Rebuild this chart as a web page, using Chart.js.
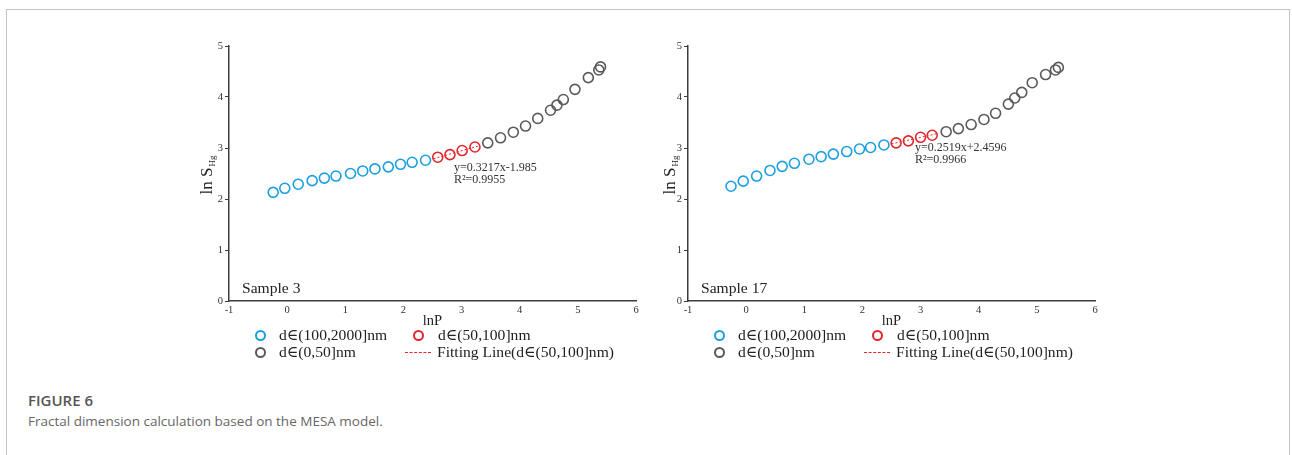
<!DOCTYPE html>
<html>
<head>
<meta charset="utf-8">
<script src="https://cdn.jsdelivr.net/npm/chart.js@4.4.1/dist/chart.umd.min.js"></script>
<style>
  html, body { margin: 0; padding: 0; background: #fff; }
  body { width: 1292px; height: 455px; position: relative; overflow: hidden; }
  .frame { position: absolute; left: 6px; top: 9px; width: 1284px; height: 460px;
           border: 1px solid #c4c4c4; border-bottom: none; box-sizing: border-box; }
  canvas { position: absolute; }
  .lg { position: absolute; font: 15.6px "Liberation Serif", "DejaVu Serif", serif; color: #222;
        white-space: nowrap; line-height: 18px; }
  .ring { position: absolute; width: 7px; height: 7px; border: 2px solid; border-radius: 50%; }
  .dash { position: absolute; height: 0; border-top: 1px dashed #e3262b; }
  .figno { position: absolute; left: 28px; top: 390px; font: 600 15px "Open Sans", sans-serif; color: #555; }
  .caption { position: absolute; left: 28px; top: 412px; font: 13.5px "Open Sans", sans-serif; color: #666; }
</style>
</head>
<body>
<div class="frame"></div>
<canvas id="panel3" width="490" height="300" style="left:160px; top:30px;"></canvas>
<canvas id="panel17" width="490" height="300" style="left:619px; top:30px;"></canvas>
<div id="legends"></div>
<div class="figno">FIGURE 6</div>
<div class="caption">Fractal dimension calculation based on the MESA model.</div>

<script>
// axis ticks
const xTicks = [-1, 0, 1, 2, 3, 4, 5, 6];
const yTicks = [0, 1, 2, 3, 4, 5];

// Sample 3: lnP vs ln S_Hg for each pore size range
const s3CoarseLnP = [-0.24, -0.04, 0.19, 0.43, 0.64, 0.84, 1.09, 1.30, 1.51, 1.74, 1.95, 2.15, 2.38];
const s3CoarseLnS = [2.13, 2.21, 2.29, 2.36, 2.41, 2.45, 2.50, 2.55, 2.59, 2.63, 2.68, 2.72, 2.76];
const s3MidLnP = [2.59, 2.80, 3.01, 3.23];
const s3MidLnS = [2.82, 2.87, 2.95, 3.02];
const s3FineLnP = [3.45, 3.67, 3.89, 4.10, 4.31, 4.53, 4.64, 4.75, 4.95, 5.18, 5.36, 5.39];
const s3FineLnS = [3.10, 3.20, 3.31, 3.43, 3.58, 3.74, 3.84, 3.95, 4.15, 4.38, 4.53, 4.59];
const s3FitLnP = [2.52, 3.29];
const s3FitLnS = [2.79, 3.04];
const s3FitText = ['y=0.3217x-1.985', 'R²=0.9955'];

// Sample 17
const s17CoarseLnP = [-0.26, -0.05, 0.18, 0.41, 0.62, 0.83, 1.08, 1.29, 1.50, 1.73, 1.95, 2.14, 2.37];
const s17CoarseLnS = [2.25, 2.35, 2.45, 2.56, 2.64, 2.70, 2.78, 2.83, 2.88, 2.93, 2.98, 3.01, 3.06];
const s17MidLnP = [2.58, 2.79, 3.00, 3.20];
const s17MidLnS = [3.10, 3.14, 3.21, 3.25];
const s17FineLnP = [3.44, 3.65, 3.87, 4.09, 4.29, 4.51, 4.62, 4.74, 4.92, 5.15, 5.32, 5.37];
const s17FineLnS = [3.32, 3.38, 3.46, 3.56, 3.68, 3.86, 3.98, 4.09, 4.28, 4.44, 4.53, 4.58];
const s17FitLnP = [2.50, 3.28];
const s17FitLnS = [3.08, 3.28];
const s17FitText = ['y=0.2519x+2.4596', 'R²=0.9966'];

const seriesLabels = ['d∈(100,2000]nm', 'd∈(50,100]nm', 'd∈(0,50]nm', 'Fitting Line(d∈(50,100]nm)'];

const BLUE = '#1b9fe0';
const RED = '#e3262b';
const GREY = '#5a5a5a';
const AXIS = '#3c3c3c';
const SERIF = '"Liberation Serif", "DejaVu Serif", serif';

function toPoints(xs, ys) {
    return xs.map((x, i) => ({ x: x, y: ys[i] }));
}

// sample name, fit equation and the y title with its subscript
const panelText = {
    id: 'panelText',
    afterDraw(chart, args, opts) {
        const { ctx, chartArea } = chart;
        ctx.save();
        ctx.textBaseline = 'middle';
        ctx.textAlign = 'left';

        ctx.fillStyle = '#222';
        ctx.font = '15.6px ' + SERIF;
        ctx.fillText(opts.sample, chartArea.left + 13, chartArea.bottom - 12);

        ctx.fillStyle = '#333';
        ctx.font = '12px ' + SERIF;
        ctx.fillText(opts.fit[0], chartArea.left + opts.fitPos[0], chartArea.top + opts.fitPos[1]);
        ctx.fillText(opts.fit[1], chartArea.left + opts.fitPos[0], chartArea.top + opts.fitPos[1] + 11.5);

        // rotated "ln S" with a small "Hg" below the baseline
        ctx.translate(chartArea.left - opts.titleGap, chartArea.top + 129);
        ctx.rotate(-Math.PI / 2);
        ctx.font = '17px ' + SERIF;
        const mainW = ctx.measureText('ln S').width;
        ctx.font = '9px ' + SERIF;
        const subW = ctx.measureText('Hg').width;
        const x0 = -(mainW + subW + 1) / 2;
        ctx.fillStyle = '#222';
        ctx.font = '17px ' + SERIF;
        ctx.fillText('ln S', x0, 0);
        ctx.font = '9px ' + SERIF;
        ctx.fillText('Hg', x0 + mainW + 1, 5);
        ctx.restore();
    }
};

function ringSet(label, data, color) {
    return {
        label: label,
        data: data,
        showLine: false,
        pointRadius: 5,
        pointHoverRadius: 5,
        pointBorderWidth: 1.6,
        pointBackgroundColor: 'rgba(0,0,0,0)',
        pointBorderColor: color,
        borderColor: color
    };
}

function makePanel(canvasId, coarse, mid, fine, fit, textOpts) {
    const ctx = document.getElementById(canvasId).getContext('2d');
    return new Chart(ctx, {
        type: 'scatter',
        data: {
            datasets: [
                {
                    label: seriesLabels[3],
                    data: fit,
                    showLine: true,
                    pointRadius: 0,
                    borderColor: RED,
                    borderWidth: 1,
                    borderDash: [2, 2]
                },
                ringSet(seriesLabels[0], coarse, BLUE),
                ringSet(seriesLabels[1], mid, RED),
                ringSet(seriesLabels[2], fine, GREY)
            ]
        },
        options: {
            responsive: false,
            animation: false,
            devicePixelRatio: 1,
            layout: { padding: { top: 16, right: 14, left: 0, bottom: 0 } },
            plugins: {
                legend: { display: false },
                tooltip: { enabled: false },
                panelText: textOpts
            },
            scales: {
                x: {
                    type: 'linear',
                    min: xTicks[0],
                    max: xTicks[xTicks.length - 1],
                    afterBuildTicks: (scale) => { scale.ticks = xTicks.map(v => ({ value: v })); },
                    afterFit: (scale) => { scale.height = 29; },
                    border: { color: AXIS, width: 1.5 },
                    grid: { drawOnChartArea: false, drawTicks: false },
                    ticks: { padding: 3, color: '#333', font: { family: SERIF, size: 10.5 } },
                    title: {
                        display: true, text: 'lnP', color: '#222', padding: 0,
                        font: { family: SERIF, size: 14.5 }
                    }
                },
                y: {
                    type: 'linear',
                    min: yTicks[0],
                    max: yTicks[yTicks.length - 1],
                    afterBuildTicks: (scale) => { scale.ticks = yTicks.map(v => ({ value: v })); },
                    afterFit: (scale) => { scale.width = 69; },
                    border: { color: AXIS, width: 1.5 },
                    grid: { drawOnChartArea: false, drawTicks: true, tickLength: 4, color: AXIS },
                    ticks: { padding: 2, color: '#333', font: { family: SERIF, size: 10.5 } }
                }
            }
        },
        plugins: [panelText]
    });
}

makePanel('panel3',
    toPoints(s3CoarseLnP, s3CoarseLnS),
    toPoints(s3MidLnP, s3MidLnS),
    toPoints(s3FineLnP, s3FineLnS),
    toPoints(s3FitLnP, s3FitLnS),
    { sample: 'Sample 3', fit: s3FitText, fitPos: [225, 122], titleGap: 21 });

makePanel('panel17',
    toPoints(s17CoarseLnP, s17CoarseLnS),
    toPoints(s17MidLnP, s17MidLnS),
    toPoints(s17FineLnP, s17FineLnS),
    toPoints(s17FitLnP, s17FitLnS),
    { sample: 'Sample 17', fit: s17FitText, fitPos: [227, 102], titleGap: 17 });

// legend blocks under each panel (left edge = plot area left)
function addLegend(left) {
    const box = document.getElementById('legends');
    const rows = [335, 352];
    const items = [
        { kind: 'ring', color: BLUE, mark: 31, text: 50, row: 0, label: seriesLabels[0] },
        { kind: 'ring', color: RED, mark: 189, text: 209, row: 0, label: seriesLabels[1] },
        { kind: 'ring', color: GREY, mark: 31, text: 50, row: 1, label: seriesLabels[2] },
        { kind: 'dash', color: RED, mark: 189, text: 208, row: 1, label: seriesLabels[3] }
    ];
    items.forEach(it => {
        const cy = rows[it.row];
        const m = document.createElement('div');
        if (it.kind === 'ring') {
            m.className = 'ring';
            m.style.borderColor = it.color;
            m.style.left = (left + it.mark - 5.5) + 'px';
            m.style.top = (cy - 5.5) + 'px';
        } else {
            m.className = 'dash';
            m.style.left = (left + it.mark - 13) + 'px';
            m.style.width = '26px';
            m.style.top = cy + 'px';
        }
        box.appendChild(m);
        const t = document.createElement('div');
        t.className = 'lg';
        t.textContent = it.label;
        t.style.left = (left + it.text) + 'px';
        t.style.top = (cy - 9) + 'px';
        box.appendChild(t);
    });
}

addLegend(229);
addLegend(688);
</script>
</body>
</html>
